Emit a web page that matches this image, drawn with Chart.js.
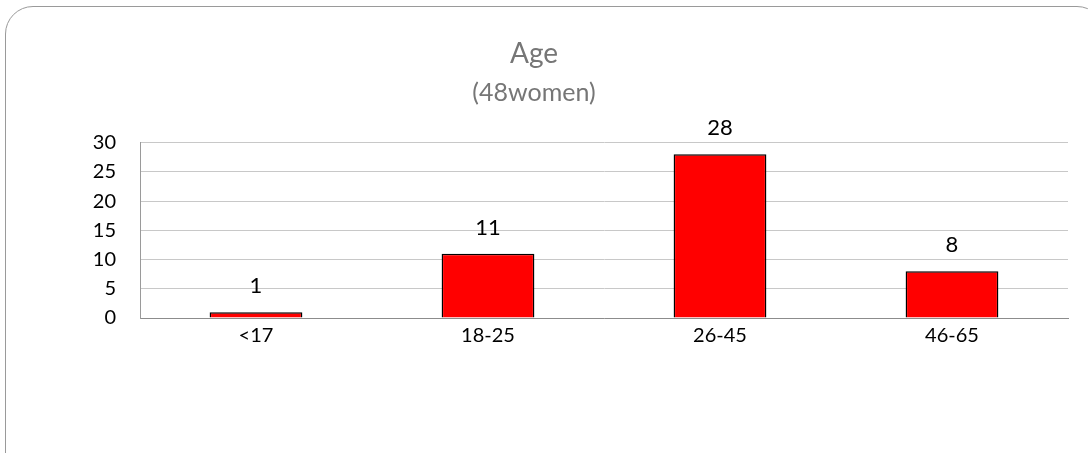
<!DOCTYPE html>
<html><head><meta charset="utf-8">
<script src="https://cdn.jsdelivr.net/npm/chart.js@4/dist/chart.umd.min.js"></script>
<style>
html,body{margin:0;padding:0;background:#fff;}
#wrap{position:relative;width:1088px;height:453px;overflow:hidden;}
#frame{position:absolute;left:5px;top:6px;width:1100px;height:480px;border:1px solid #9a9a9a;border-radius:28px;box-sizing:border-box;}
canvas{position:absolute;left:0;top:0;}
</style></head>
<body><div id="wrap"><div id="frame"></div><canvas id="c" width="1088" height="453"></canvas></div>
<script>
const categories = ["<17", "18-25", "26-45", "46-65"];
const counts = [1, 11, 28, 8];
const yTicks = [0, 5, 10, 15, 20, 25, 30];
const titleText = "Age";
const subtitleText = "(48women)";

const FONT = "Lato, 'Open Sans', sans-serif";

const valueLabels = {
  id: 'valueLabels',
  afterDatasetsDraw(chart) {
    const ctx = chart.ctx;
    const meta = chart.getDatasetMeta(0);
    ctx.save();
    ctx.font = "22px " + FONT;
    ctx.fillStyle = "#000";
    ctx.textAlign = "center";
    ctx.textBaseline = "middle";
    meta.data.forEach((bar, i) => {
      ctx.fillText(String(counts[i]), bar.x, bar.y - 26);
    });
    ctx.restore();
  }
};

new Chart(document.getElementById('c'), {
  type: 'bar',
  data: {
    labels: categories,
    datasets: [{
      data: counts,
      backgroundColor: '#ff0000',
      borderColor: '#000000',
      borderWidth: 1.5,
      barPercentage: 0.4,
      categoryPercentage: 1.0
    }]
  },
  options: {
    responsive: false,
    animation: false,
    layout: { padding: { left: 0, right: 20, top: 0, bottom: 0 } },
    plugins: {
      legend: { display: false },
      tooltip: { enabled: false },
      title: { display: true, text: titleText, color: '#767676', font: { family: FONT, size: 28, weight: 'normal' }, padding: { top: 37, bottom: 7 } },
      subtitle: { display: true, text: subtitleText, color: '#767676', font: { family: FONT, size: 25, weight: 'normal' }, padding: { top: 0, bottom: 35 } }
    },
    scales: {
      x: {
        grid: { display: false, drawTicks: false },
        border: { display: true, color: '#8c8c8c', width: 1 },
        ticks: { color: '#000', font: { family: FONT, size: 20 }, padding: 6 },
        afterFit(s) { s.height = 135; }
      },
      y: {
        min: 0, max: 30,
        afterBuildTicks(s) { s.ticks = yTicks.map(v => ({ value: v })); },
        grid: { color: '#c8c8c8', drawTicks: false, lineWidth: 1 },
        border: { display: true, color: '#9a9a9a', width: 1 },
        ticks: { color: '#000', font: { family: FONT, size: 20 }, padding: 24 },
        afterFit(s) { s.width = 140; }
      }
    }
  },
  plugins: [valueLabels]
});
</script></body></html>
